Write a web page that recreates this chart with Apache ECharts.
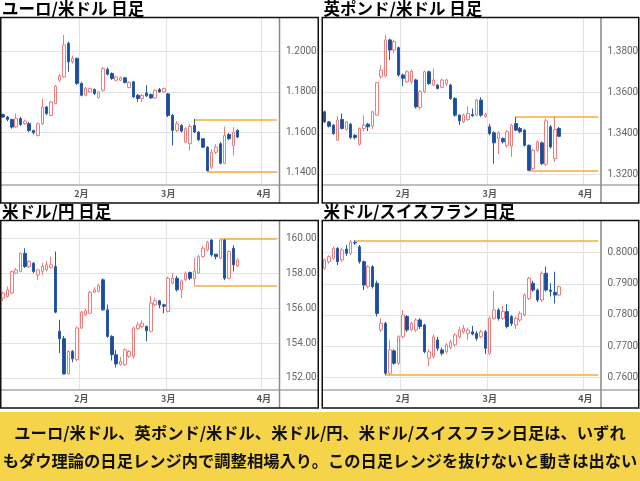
<!DOCTYPE html>
<html><head><meta charset="utf-8">
<script src="https://cdn.jsdelivr.net/npm/echarts@6/dist/echarts.min.js"></script>
<style>html,body{margin:0;padding:0;background:#fff}#c{width:640px;height:481px}</style>
</head><body><div id="c"></div>
<script>
// trading-day categories
const dates = ['1/7','1/8','1/9','1/12','1/13','1/14','1/15','1/16','1/19','1/20','1/21','1/22','1/23','1/26','1/27','1/28','1/29','1/30',
'2/2','2/3','2/4','2/5','2/6','2/9','2/10','2/11','2/12','2/13','2/16','2/17','2/18','2/19','2/20','2/23','2/24','2/25','2/26','2/27',
'3/2','3/3','3/4','3/5','3/6','3/9','3/10','3/11','3/12','3/13','3/16','3/17','3/18','3/19','3/20','3/23','3/24','3/25','3/26','3/27','3/30','3/31',
'4/1','4/2','4/3','4/6'];
const monthStarts = ['2/2','3/2','4/1'];
const monthLabels = ['2月','3月','4月'];

// [open, close, low, high]
const eurusd = [
[1.1687,1.1675,1.1670,1.1692],[1.1675,1.1663,1.1655,1.1680],[1.1663,1.1625,1.1617,1.1667],[1.1625,1.1667,1.1620,1.1692],
[1.1667,1.1638,1.1630,1.1675],[1.1642,1.1655,1.1637,1.1662],[1.1642,1.1608,1.1600,1.1650],[1.1608,1.1597,1.1590,1.1612],
[1.1583,1.1642,1.1578,1.1648],[1.1642,1.1725,1.1635,1.1767],[1.1725,1.1692,1.1685,1.1730],[1.1683,1.1750,1.1678,1.1755],
[1.1742,1.1828,1.1738,1.1835],[1.1858,1.1878,1.1850,1.1888],[1.1875,1.2033,1.1870,1.2083],[1.2042,1.1950,1.1900,1.2050],
[1.1950,1.1967,1.1940,1.1980],[1.1967,1.1842,1.1835,1.1970],[1.1842,1.1783,1.1778,1.1848],[1.1783,1.1817,1.1778,1.1825],
[1.1800,1.1817,1.1795,1.1822],[1.1812,1.1792,1.1785,1.1817],[1.1772,1.1800,1.1767,1.1805],[1.1808,1.1917,1.1800,1.1925],
[1.1912,1.1888,1.1882,1.1922],[1.1892,1.1867,1.1860,1.1897],[1.1858,1.1875,1.1852,1.1880],[1.1858,1.1870,1.1855,1.1877],
[1.1870,1.1847,1.1842,1.1875],[1.1822,1.1847,1.1818,1.1852],[1.1850,1.1775,1.1770,1.1855],[1.1783,1.1767,1.1750,1.1790],
[1.1767,1.1783,1.1750,1.1790],[1.1795,1.1780,1.1775,1.1833],[1.1787,1.1770,1.1765,1.1792],[1.1770,1.1808,1.1765,1.1813],
[1.1812,1.1800,1.1795,1.1820],[1.1800,1.1817,1.1795,1.1822],[1.1790,1.1683,1.1675,1.1795],[1.1683,1.1608,1.1533,1.1690],
[1.1608,1.1642,1.1600,1.1655],[1.1633,1.1605,1.1598,1.1640],[1.1550,1.1617,1.1545,1.1625],[1.1542,1.1628,1.1508,1.1640],
[1.1633,1.1600,1.1595,1.1665],[1.1600,1.1562,1.1555,1.1605],[1.1567,1.1525,1.1520,1.1570],[1.1525,1.1408,1.1405,1.1530],
[1.1425,1.1500,1.1415,1.1515],[1.1500,1.1525,1.1490,1.1540],[1.1542,1.1445,1.1440,1.1550],[1.1445,1.1583,1.1440,1.1628],
[1.1588,1.1567,1.1560,1.1595],[1.1533,1.1600,1.1483,1.1625],[1.1608,1.1575,1.1570,1.1615]];

const gbpusd = [
[1.3504,1.3455,1.3450,1.3510],[1.3455,1.3434,1.3428,1.3460],[1.3439,1.3398,1.3392,1.3445],[1.3366,1.3463,1.3362,1.3483],
[1.3467,1.3423,1.3418,1.3496],[1.3418,1.3455,1.3412,1.3460],[1.3444,1.3379,1.3372,1.3450],[1.3390,1.3379,1.3370,1.3395],
[1.3346,1.3423,1.3340,1.3428],[1.3423,1.3439,1.3410,1.3488],[1.3444,1.3431,1.3410,1.3450],[1.3434,1.3504,1.3420,1.3510],
[1.3488,1.3646,1.3485,1.3650],[1.3675,1.3707,1.3665,1.3732],[1.3678,1.3854,1.3672,1.3878],[1.3854,1.3805,1.3756,1.3860],
[1.3805,1.3846,1.3790,1.3855],[1.3816,1.3683,1.3675,1.3822],[1.3683,1.3667,1.3629,1.3690],[1.3650,1.3699,1.3645,1.3707],
[1.3650,1.3702,1.3640,1.3710],[1.3659,1.3528,1.3520,1.3665],[1.3525,1.3602,1.3515,1.3610],[1.3602,1.3699,1.3595,1.3705],
[1.3699,1.3642,1.3635,1.3705],[1.3634,1.3659,1.3628,1.3715],[1.3634,1.3618,1.3612,1.3640],[1.3623,1.3659,1.3618,1.3665],
[1.3640,1.3659,1.3630,1.3665],[1.3634,1.3569,1.3562,1.3640],[1.3569,1.3488,1.3480,1.3575],[1.3488,1.3460,1.3440,1.3492],
[1.3455,1.3488,1.3450,1.3495],[1.3467,1.3496,1.3460,1.3532],[1.3491,1.3485,1.3480,1.3520],[1.3488,1.3561,1.3482,1.3568],
[1.3561,1.3488,1.3480,1.3575],[1.3482,1.3491,1.3475,1.3500],[1.3431,1.3398,1.3390,1.3445],[1.3402,1.3353,1.3252,1.3410],
[1.3374,1.3402,1.3300,1.3410],[1.3374,1.3358,1.3350,1.3380],[1.3341,1.3407,1.3330,1.3415],[1.3337,1.3439,1.3285,1.3445],
[1.3447,1.3415,1.3410,1.3480],[1.3423,1.3407,1.3400,1.3430],[1.3415,1.3341,1.3335,1.3420],[1.3341,1.3220,1.3216,1.3345],
[1.3228,1.3317,1.3220,1.3325],[1.3317,1.3358,1.3310,1.3365],[1.3353,1.3252,1.3245,1.3360],[1.3249,1.3460,1.3240,1.3470],
[1.3431,1.3333,1.3325,1.3440],[1.3276,1.3418,1.3260,1.3480],[1.3423,1.3385,1.3380,1.3430]];

const usdjpy = [
[156.57,156.86,156.40,156.95],[156.67,157.05,156.60,157.24],[156.86,158.10,156.80,158.15],[158.00,158.19,157.95,158.30],
[158.10,159.14,158.05,159.20],[159.14,158.38,158.30,159.43],[158.38,158.67,158.30,158.75],[158.57,158.10,158.00,158.65],
[157.90,158.19,157.60,158.25],[158.10,158.38,157.90,158.60],[158.19,158.48,158.10,158.70],[158.32,158.48,158.25,158.95],
[158.38,155.77,155.70,159.24],[154.67,154.25,153.43,155.33],[154.25,152.23,152.20,154.40],[152.23,153.52,152.20,153.60],
[153.52,153.10,152.90,153.60],[153.05,154.86,152.95,154.95],[154.86,155.77,154.80,155.85],[155.62,155.85,155.55,155.95],
[155.71,156.91,155.65,157.00],[156.91,157.05,156.85,157.20],[156.95,157.30,156.90,157.40],[157.62,155.90,155.85,157.70],
[155.90,154.38,154.30,156.20],[154.38,153.33,153.00,154.45],[153.33,152.80,152.60,153.60],[152.76,152.95,152.70,153.20],
[152.76,153.62,152.70,153.70],[153.24,153.52,153.15,153.60],[153.24,154.86,153.10,154.95],[154.82,155.05,154.75,155.20],
[154.95,155.14,154.85,155.30],[154.95,154.70,154.10,155.00],[154.67,156.29,154.60,156.70],[156.19,156.42,156.10,156.60],
[156.42,156.19,156.00,156.45],[156.19,156.11,155.70,156.25],[155.81,157.71,155.75,157.80],[157.43,157.71,157.35,158.00],
[157.71,157.05,156.95,157.85],[157.05,157.56,156.57,157.65],[157.62,158.00,157.55,158.10],[158.04,157.71,157.60,158.10],
[157.68,158.13,157.30,158.86],[158.00,158.95,157.95,159.05],[158.95,159.43,158.90,159.55],[159.33,159.77,159.25,159.85],
[159.90,159.05,158.95,159.95],[159.09,158.95,158.80,159.10],[158.86,159.90,158.80,159.95],[159.90,157.71,157.60,159.95],
[157.71,159.24,157.65,159.30],[159.43,158.48,158.10,159.60],[158.42,158.76,158.35,158.85]];

const usdchf = [
[0.7950,0.7977,0.7945,0.7982],[0.7971,0.7987,0.7965,0.7992],[0.7982,0.8014,0.7978,0.8020],[0.8014,0.7971,0.7960,0.8018],
[0.7977,0.8009,0.7970,0.8015],[0.8012,0.7998,0.7990,0.8025],[0.7998,0.8035,0.7992,0.8041],[0.8033,0.8031,0.8025,0.8040],
[0.8019,0.7971,0.7965,0.8025],[0.7971,0.7896,0.7880,0.7975],[0.7891,0.7955,0.7885,0.7960],[0.7955,0.7891,0.7885,0.7960],
[0.7902,0.7805,0.7795,0.7910],[0.7752,0.7773,0.7745,0.7790],[0.7773,0.7613,0.7607,0.7778],[0.7613,0.7688,0.7608,0.7720],
[0.7685,0.7645,0.7640,0.7690],[0.7645,0.7730,0.7640,0.7735],[0.7730,0.7800,0.7725,0.7815],[0.7795,0.7752,0.7745,0.7800],
[0.7752,0.7773,0.7748,0.7780],[0.7752,0.7784,0.7745,0.7790],[0.7784,0.7763,0.7755,0.7790],[0.7768,0.7682,0.7677,0.7772],
[0.7661,0.7682,0.7635,0.7690],[0.7666,0.7730,0.7660,0.7738],[0.7720,0.7693,0.7685,0.7730],[0.7688,0.7677,0.7670,0.7695],
[0.7682,0.7704,0.7675,0.7710],[0.7695,0.7714,0.7690,0.7720],[0.7704,0.7736,0.7698,0.7742],[0.7730,0.7752,0.7725,0.7762],
[0.7746,0.7757,0.7740,0.7768],[0.7741,0.7752,0.7720,0.7760],[0.7746,0.7739,0.7735,0.7765],[0.7741,0.7725,0.7718,0.7748],
[0.7730,0.7746,0.7725,0.7752],[0.7746,0.7693,0.7675,0.7752],[0.7677,0.7789,0.7672,0.7795],[0.7789,0.7816,0.7785,0.7877],
[0.7816,0.7789,0.7782,0.7822],[0.7789,0.7811,0.7785,0.7830],[0.7811,0.7763,0.7757,0.7835],[0.7795,0.7773,0.7765,0.7800],
[0.7768,0.7789,0.7755,0.7795],[0.7784,0.7805,0.7778,0.7812],[0.7800,0.7864,0.7795,0.7870],[0.7853,0.7918,0.7848,0.7922],
[0.7902,0.7880,0.7875,0.7910],[0.7880,0.7848,0.7842,0.7885],[0.7848,0.7934,0.7842,0.7940],[0.7934,0.7880,0.7875,0.7955],
[0.7880,0.7876,0.7859,0.7902],[0.7873,0.7864,0.7837,0.7939],[0.7864,0.7891,0.7860,0.7895]];

const titles = ['ユーロ/米ドル 日足','英ポンド/米ドル 日足','米ドル/円 日足','米ドル/スイスフラン 日足'];
const tickValues = [[1.14,1.16,1.18,1.20],[1.32,1.34,1.36,1.38],[152,154,156,158,160],[0.76,0.77,0.78,0.79,0.80]];
const tickLabels = [['1.1400','1.1600','1.1800','1.2000'],['1.3200','1.3400','1.3600','1.3800'],
  ['152.00','154.00','156.00','158.00','160.00'],['0.7600','0.7700','0.7800','0.7900','0.8000']];
const yRanges = [[1.13368,1.21677],[1.3148,1.39606],[151.31,160.99],[0.75592,0.81018]];
// range lines: [start date, level]
const rangeHigh = [['3/10',1.1663],['3/10',1.3480],['3/18',159.95],['1/16',0.8037]];
const rangeLow  = [['3/13',1.1405],['3/13',1.3216],['3/10',157.30],['1/27',0.7607]];
const summary = ['ユーロ/米ドル、英ポンド/米ドル、米ドル/円、米ドル/スイスフラン日足は、いずれ',
  'もダウ理論の日足レンジ内で調整相場入り。この日足レンジを抜けないと動きは出ない'];

const allData = [eurusd, gbpusd, usdjpy, usdchf];

// panel frames
const panels = [
  {x:0, y:17.5, w:319, h:185.5, gTop:18, gH:167},
  {x:321.5, y:17.5, w:318, h:185.5, gTop:18, gH:167},
  {x:0, y:220.5, w:319, h:187.5, gTop:221, gH:169},
  {x:321.5, y:220.5, w:318, h:187.5, gTop:221, gH:169}
];

const grids = [], xAxes = [], yAxes = [], series = [], graphics = [];
panels.forEach((p, i) => {
  grids.push({left: p.x + 1, top: p.gTop, width: 278, height: p.gH, show:false});
  xAxes.push({
    type:'category', gridIndex:i, data:dates, boundaryGap:true,
    axisLine:{show:false}, axisTick:{show:false},
    axisLabel:{interval:(idx) => monthStarts.indexOf(dates[idx]) >= 0,
      formatter:(v) => monthLabels[monthStarts.indexOf(v)] || '',
      margin:4, fontSize:9, fontWeight:'bold', color:'#555', fontFamily:'Noto Sans CJK JP'},
    splitLine:{show:true, interval:(idx) => monthStarts.indexOf(dates[idx]) >= 0,
      lineStyle:{color:'#e2e2e2', width:1}}
  });
  yAxes.push({
    type:'value', gridIndex:i, position:'right', min:yRanges[i][0], max:yRanges[i][1],
    axisLine:{show:false}, axisTick:{show:false}, axisLabel:{show:false}, splitLine:{show:false}
  });
  series.push({
    type:'line', xAxisIndex:i, yAxisIndex:i, data:[], z:1, silent:true,
    markLine:{silent:true, symbol:'none', animation:false,
      lineStyle:{color:'#e4e4e4', width:1, type:'solid'},
      label:{show:true, position:'end', distance:7, color:'#666', fontSize:10, fontFamily:'Roboto',
        formatter:(prm) => tickLabels[i][tickValues[i].indexOf(prm.value)]},
      data: tickValues[i].map(v => ({yAxis:v}))}
  });
  series.push({
    type:'candlestick', xAxisIndex:i, yAxisIndex:i, data:allData[i], barWidth:3, z:5,
    itemStyle:{color:'#ffffff', borderColor:'#ee7d7d', color0:'#1b4c9c', borderColor0:'#2a5aa6', borderWidth:1},
    markLine:{silent:true, symbol:'none', animation:false,
      lineStyle:{color:'#f4ac40', width:1.5, type:'solid'}, label:{show:false},
      data:[
        [{coord:[rangeHigh[i][0], rangeHigh[i][1]]},{coord:[dates[dates.length-1], rangeHigh[i][1]]}],
        [{coord:[rangeLow[i][0], rangeLow[i][1]]},{coord:[dates[dates.length-1], rangeLow[i][1]]}]
      ]}
  });
  const axisY = p.gTop + p.gH;
  graphics.push({type:'line', shape:{x1:p.x, y1:axisY, x2:p.x + p.w, y2:axisY}, style:{stroke:'#a8a8a8', lineWidth:1.5}, z:10});
  graphics.push({type:'line', shape:{x1:p.x + 279.5, y1:p.y, x2:p.x + 279.5, y2:p.y + p.h}, style:{stroke:'#8a8a8a', lineWidth:1.5}, z:10});
  graphics.push({type:'rect', shape:{x:p.x + 0.75, y:p.y, width:p.w - 1.5, height:p.h}, style:{fill:null, stroke:'#111', lineWidth:1.5}, z:11});
  graphics.push({type:'text', x:p.x + 2, y:p.y - 8.5, style:{text:titles[i], fill:'#000',
    font:'bold 16.5px "Noto Sans CJK JP"', textVerticalAlign:'middle'}, z:11});
});
graphics.push({type:'rect', shape:{x:0, y:412, width:640, height:69}, style:{fill:'#f5d449'}, z:1});
graphics.push({type:'text', x:320, y:433, style:{text:summary[0], fill:'#111', font:'bold 16.3px "Noto Sans CJK JP"', textAlign:'center', textVerticalAlign:'middle'}, z:2});
graphics.push({type:'text', x:320, y:461, style:{text:summary[1], fill:'#111', font:'bold 16.3px "Noto Sans CJK JP"', textAlign:'center', textVerticalAlign:'middle'}, z:2});

const chart = echarts.init(document.getElementById('c'), null, {renderer:'canvas'});
chart.setOption({
  animation:false, backgroundColor:'#fff',
  grid:grids, xAxis:xAxes, yAxis:yAxes, series:series, graphic:graphics
});
</script></body></html>
